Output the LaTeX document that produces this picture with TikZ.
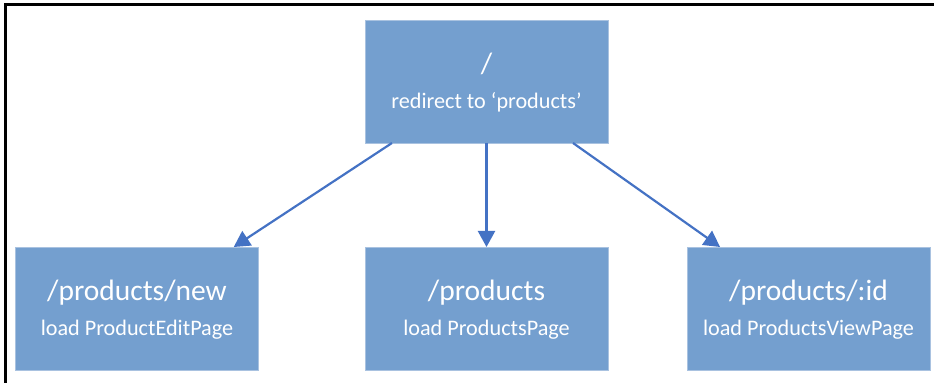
\documentclass[tikz,border=0pt]{standalone}
\usepackage{fontspec}
\setmainfont{Carlito}
\usetikzlibrary{arrows.meta,calc}
\definecolor{boxfill}{HTML}{749FCF}
\definecolor{boxline}{HTML}{A9C2E0}
\definecolor{arrowblue}{HTML}{4472C4}
\begin{document}
\begin{tikzpicture}[x=1pt,y=1pt,
  routebox/.style={draw=boxline, line width=0.8pt, fill=boxfill, minimum width=243pt, minimum height=123pt, inner sep=0pt, outer sep=0pt},
  titletext/.style={text=white, font=\fontsize{29.5}{34}\selectfont, anchor=base, inner sep=0pt},
  subtext/.style={text=white, font=\fontsize{22.2}{26}\selectfont, anchor=base, inner sep=0pt},
  link/.style={draw=arrowblue, line width=2.2pt, -{Triangle[length=16pt,width=17pt]}},
  frameline/.style={line width=3pt, black}]
\useasboundingbox (0,0) rectangle (934,383);
\coordinate (fa) at (4,378.2);
\coordinate (fb) at (934,378.2);
\coordinate (fc) at (5.5,379.7);
\coordinate (fd) at (5.5,0);
\draw[frameline] (fa) -- (fb);
\draw[frameline] (fc) -- (fd);

\node[routebox] (root) at (486.5,301.5) {};
\node[titletext] (rootT) at ($(root.center)+(0,7.5)$) {/};
\node[subtext] (rootS) at ($(root.center)+(0,-27)$) {redirect to ‘products’};

\node[routebox] (new) at (137,74.5) {};
\node[titletext] (newT) at ($(new.center)+(0,7.5)$) {/products/new};
\node[subtext] (newS) at ($(new.center)+(0,-27)$) {load ProductEditPage};

\node[routebox] (list) at (486.5,74.5) {};
\node[titletext] (listT) at ($(list.center)+(0,7.5)$) {/products};
\node[subtext] (listS) at ($(list.center)+(0,-27)$) {load ProductsPage};

\node[routebox] (view) at (808.5,74.5) {};
\node[titletext] (viewT) at ($(view.center)+(0,7.5)$) {/products/:id};
\node[subtext] (viewS) at ($(view.center)+(0,-27)$) {load ProductsViewPage};

\draw[link] ($(root.south west)!0.111!(root.south east)$) -- ($(new.north west)!0.898!(new.north east)$);
\draw[link] (root.south) -- (list.north);
\draw[link] ($(root.south west)!0.856!(root.south east)$) -- ($(view.north west)!0.136!(view.north east)$);
\end{tikzpicture}
\end{document}
